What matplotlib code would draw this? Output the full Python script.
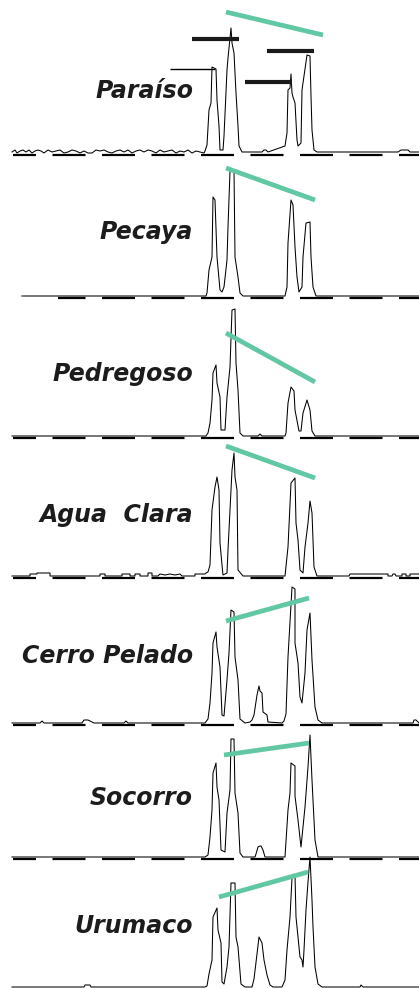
import matplotlib
matplotlib.use("Agg")
from matplotlib import pyplot as plt

plt.rcParams['lines.scale_dashes'] = False

# sites, top to bottom
sites = ["Paraíso", "Pecaya", "Pedregoso", "Agua  Clara", "Cerro Pelado", "Socorro", "Urumaco"]

# chromatogram traces: retention (scan) and signal above baseline
paraiso_t = [12, 15, 17, 20, 23, 26, 29, 32, 35, 38, 41, 44, 48, 52, 56, 60, 64, 68, 72, 76,
             80, 84, 88, 92, 96, 100, 104, 108, 112, 116, 120, 124, 128, 132, 136, 140, 144,
             148, 152, 156, 160, 164, 168, 172, 176, 180, 184, 188, 192, 196, 200, 204,
             205, 207, 209, 211, 212, 214, 216, 217, 219, 220, 223, 224, 227, 228, 231, 232,
             234, 236, 238, 239, 242, 262, 264, 266, 268, 285, 287, 288, 290, 291, 292, 293,
             295, 297, 298, 301, 302, 304, 307, 310, 311, 312, 314, 317, 398, 401, 408, 410, 419]
paraiso_s = [1, 3, 0, 2, 3, 1, 3, 0, 2, 3, 2, 0, 3, 1, 2, 3, 0, 1, 3, 2,
             0, 2, 0, 0, 3, 2, 3, 1, 0, 2, 3, 1, 3, 0, 2, 3, 1,
             3, 2, 0, 3, 1, 2, 3, 0, 2, 1, 3, 0, 2, 1, 0,
             2, 8, 43, 50, 86, 85, 84, 53, 27, 3, 3, 17, 83, 95, 125, 110,
             100, 60, 27, 7, 1, 1, 3, 3, 1, 7, 20, 63, 65, 79, 60, 56,
             50, 13, 7, 10, 63, 77, 98, 97, 57, 23, 3, 1, 1, 3, 3, 1, 1]

pecaya_t = [22, 206, 207, 209, 212, 213, 215, 217, 220, 222, 224, 227, 228, 230, 234, 235, 238,
            240, 243, 285, 287, 288, 291, 293, 295, 297, 299, 302, 303, 306, 310, 311, 313, 316, 419]
pecaya_s = [0, 0, 3, 26, 39, 99, 96, 39, 6, 4, 9, 36, 69, 125, 126, 39, 19,
            3, 0, 0, 9, 53, 96, 91, 49, 19, 4, 9, 39, 73, 74, 39, 9, 0, 0]

pedregoso_t = [12, 206, 208, 210, 212, 213, 216, 217, 220, 221, 225, 227, 230, 232, 235, 236, 238,
               240, 243, 258, 260, 262, 285, 286, 288, 291, 294, 295, 299, 301, 303, 307, 310,
               312, 315, 419]
pedregoso_s = [0, 0, 3, 13, 36, 63, 71, 53, 39, 6, 6, 39, 69, 126, 127, 73, 46,
               3, 0, 0, 2, 0, 0, 3, 33, 49, 45, 26, 5, 5, 23, 36, 26,
               5, 0, 0]

agua_t = [12, 30, 30, 37, 37, 50, 50, 100, 100, 105, 105, 122, 122, 130, 130, 135, 135, 140, 140,
          148, 148, 152, 152, 158, 160, 165, 170, 175, 180, 182, 195, 195, 205, 206,
          208, 210, 212, 215, 217, 219, 220, 222, 223, 227, 228, 232, 234, 235, 237, 238, 243,
          285, 288, 291, 295, 296, 298, 300, 303, 305, 308, 310, 312, 314, 317,
          349, 350, 388, 388, 392, 393, 395, 396, 402, 402, 406, 406, 410, 410, 419]
agua_s = [0, 0, 2, 2, 3, 3, 0, 0, 2, 2, 0, 0, 2, 2, 0, 0, 2, 2, 0,
          0, 3, 3, 0, 0, 2, 1, 2, 1, 2, 0, 0, 2, 2, 3,
          4, 11, 66, 89, 99, 86, 33, 11, 1, 3, 26, 106, 123, 99, 86, 6, 0,
          0, 29, 93, 98, 53, 36, 6, 3, 29, 53, 75, 63, 9, 0,
          0, 2, 2, 0, 0, 2, 2, 0, 0, 2, 2, 0, 0, 2, 2]

cerro_t = [12, 40, 42, 44, 82, 84, 88, 92, 94, 124, 126, 128, 205, 208, 210, 212, 213, 216, 217,
           220, 222, 224, 227, 229, 231, 234, 235, 238, 240, 245, 250, 252, 254, 257, 259, 260,
           262, 263, 267, 268, 282, 284, 286, 288, 292, 295, 295, 298, 300, 302, 305, 307, 310,
           312, 315, 318, 322, 413, 414, 416, 419]
cerro_s = [0, 0, 2, 0, 0, 3, 3, 1, 0, 0, 2, 0, 0, 4, 20, 50, 80, 91, 76,
           56, 8, 7, 43, 70, 113, 111, 66, 43, 4, 0, 1, 3, 8, 28, 37, 32,
           30, 11, 8, 1, 0, 2, 9, 66, 136, 134, 80, 60, 26, 20, 50, 93, 110,
           63, 16, 3, 0, 0, 3, 3, 0]

socorro_t = [12, 205, 208, 210, 212, 213, 216, 217, 219, 221, 225, 227, 230, 231, 234, 235, 238,
             240, 243, 255, 256, 258, 260, 261, 263, 265, 285, 288, 290, 291, 295, 295, 298,
             301, 302, 305, 308, 310, 312, 315, 318, 419]
socorro_s = [0, 0, 2, 20, 47, 84, 94, 70, 57, 7, 5, 44, 67, 118, 118, 64, 44,
             4, 0, 0, 3, 10, 11, 11, 7, 0, 0, 47, 64, 94, 91, 61, 37,
             10, 20, 50, 90, 122, 77, 17, 0, 0]

urumaco_t = [12, 84, 85, 90, 91, 205, 207, 209, 212, 213, 217, 218, 221, 222, 224, 227, 229, 231,
             235, 236, 238, 241, 245, 252, 254, 257, 259, 262, 264, 267, 270, 273, 282, 285, 287,
             290, 292, 295, 296, 298, 300, 302, 303, 304, 306, 308, 310, 312, 313, 315, 318, 322,
             360, 361, 363, 419]
urumaco_s = [0, 0, 2, 2, 0, 0, 1, 13, 27, 70, 79, 57, 44, 5, 3, 20, 40, 104,
             104, 50, 40, 3, 0, 0, 8, 33, 50, 44, 27, 12, 2, 0, 0, 7, 37,
             70, 109, 112, 70, 50, 30, 27, 20, 37, 77, 105, 130, 87, 60, 20, 3, 0,
             0, 2, 0, 0]

traces_t = [paraiso_t, pecaya_t, pedregoso_t, agua_t, cerro_t, socorro_t, urumaco_t]
traces_s = [paraiso_s, pecaya_s, pedregoso_s, agua_s, cerro_s, socorro_s, urumaco_s]

# trend line between the main peaks of each site
trend_x0 = [226, 226, 226, 226, 226, 224, 219]
trend_y0 = [141, 128, 103, 130, 102, 102, 90]
trend_x1 = [323, 315, 315, 315, 309, 309, 308]
trend_y1 = [118, 96, 54, 98, 125, 114, 115]

# reference bars marked over the Paraíso peaks
bar_y = [114, 102, 71]
bar_x0 = [192, 267, 245]
bar_x1 = [239, 314, 292]
guide_y = 84
guide_x0 = 170
guide_x1 = 215

# layout
W, H = 419, 988
baseline_px = [153, 296, 436, 576, 723, 857, 987]
label_y = [55, 57, 55, 54, 60, 52, 54]
ruler_start = [13, 58, 13, 13, 13, 13, None]
teal = '#62c7a3'

fig = plt.figure(figsize=(W / 100, H / 100), dpi=100)

for i, site in enumerate(sites):
    b = baseline_px[i]
    ax = fig.add_axes([0, (H - b - 6) / H, 1, 150 / H])
    ax.set_xlim(0, W)
    ax.set_ylim(-6, 144)
    ax.axis('off')
    ax.patch.set_alpha(0)

    ax.plot(traces_t[i], traces_s[i], color='black', lw=0.75, clip_on=False, zorder=3)

    # scan ruler under the baseline
    if ruler_start[i] is not None:
        x0 = ruler_start[i]
        ax.plot([x0, W], [-1.6, -1.6], color='black', lw=1.6, solid_capstyle='butt',
                linestyle=(((x0 - 3) % 49.5) * 0.72, (33 * 0.72, 16.5 * 0.72)),
                dash_capstyle='butt', clip_on=False, zorder=2)

    ax.plot([trend_x0[i], trend_x1[i]], [trend_y0[i], trend_y1[i]], color=teal, lw=3.4,
            solid_capstyle='butt', clip_on=False, zorder=4)

    ax.text(193, label_y[i], site, ha='right', va='baseline', fontsize=17,
            fontweight='bold', fontstyle='italic', family='DejaVu Sans', color='#1c1c1c',
            clip_on=False)

    if i == 0:
        ax.hlines(bar_y, bar_x0, bar_x1, color='#1a1a1a', lw=3.0, zorder=4)
        ax.hlines(guide_y, guide_x0, guide_x1, color='black', lw=1.0, zorder=4)

fig.savefig('out.png', dpi=100)
